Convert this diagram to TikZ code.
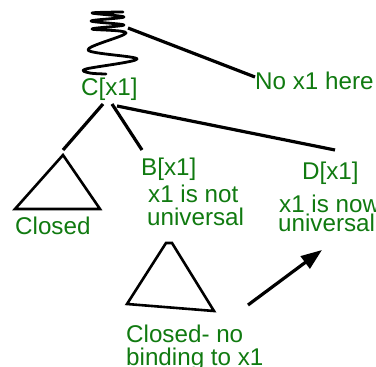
\documentclass[tikz,border=0pt]{standalone}
\usepackage{fontspec}
\setmainfont{Liberation Sans}
\usetikzlibrary{arrows.meta}
\definecolor{lblgreen}{RGB}{16,122,16}
\begin{document}
\begin{tikzpicture}[x=1pt,y=-1pt,
  lbl/.style={text=lblgreen, font=\fontsize{24.2}{25}\selectfont, inner sep=0pt, anchor=base west},
  edge/.style={line width=3.2pt, black},
  tri/.style={line width=2.6pt, black, line join=miter},
  coil/.style={line width=2.8pt, black, line cap=round, line join=round}]
\useasboundingbox (0,0) rectangle (376,367);
% labels
\node[lbl] (nox) at (255,89) {No x1 here};
\node[lbl] (c) at (81,95) {C[x1]};
\node[lbl] (closed) at (15,234) {Closed};
\node[lbl] (b) at (141,175) {B[x1]};
\node[lbl] (bnot) at (148,202) {x1 is not};
\node[lbl] (buniv) at (147,225.5) {universal};
\node[lbl] (d) at (302,179) {D[x1]};
\node[lbl] (dnow) at (279,212.5) {x1 is now};
\node[lbl] (duniv) at (278,231.5) {universal};
\node[lbl] (cl2) at (126,342) {Closed- no};
\node[lbl] (cl3) at (126,365) {binding to x1};
% coordinates
\coordinate (sq) at (128,28);
\coordinate (noxend) at (255,77);
\coordinate (c1) at (103,104);
\coordinate (t1) at (63,150);
\coordinate (c2) at (112,104);
\coordinate (b1) at (142,150);
\coordinate (c3) at (117,106);
\coordinate (d1) at (335,150);
\coordinate (ar1) at (248,305);
\coordinate (ar2) at (322,250);
% coil
\draw[coil] plot[smooth, tension=0.55] coordinates {(123,12) (92,13) (124,17) (91,21) (124,25) (92,29) (126,33) (88,50) (137,59) (86,69) (90,73) (106,74)};
% connectors
\draw[edge] (sq) -- (noxend);
\draw[edge] (c1) -- (t1);
\draw[edge] (c2) -- (b1);
\draw[edge] (c3) -- (d1);
% triangles
\draw[tri] (63,155) -- (15,209) -- (100,209) -- cycle;
\draw[tri] (166,243) -- (172,243) -- (214,311) -- (127,304) -- cycle;
% arrow
\draw[edge, -{Triangle[length=21pt,width=15pt]}] (ar1) -- (ar2);
\end{tikzpicture}
\end{document}
